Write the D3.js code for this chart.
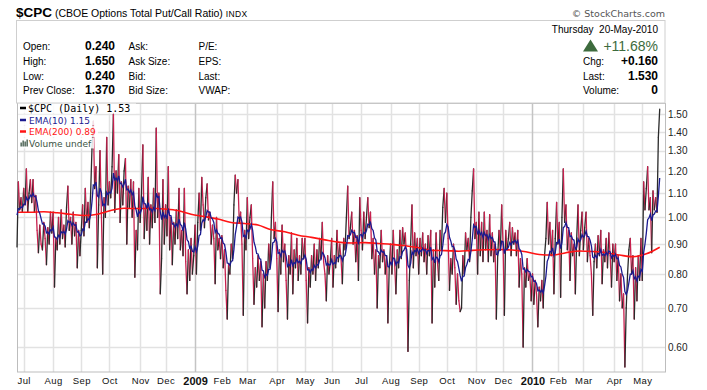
<!DOCTYPE html>
<html><head><meta charset="utf-8">
<script src="https://cdn.jsdelivr.net/npm/d3@7"></script>
<style>body{margin:0;background:#fff}svg{display:block}</style>
</head><body>
<svg id="c" width="707" height="390"></svg>
<script>
// ---------- DATA ----------
const holidays = ["2008-07-04","2008-09-01","2008-11-27","2008-12-25","2009-01-01","2009-01-19","2009-02-16","2009-04-10","2009-05-25","2009-07-03","2009-09-07","2009-11-26","2009-12-25","2010-01-01","2010-01-18","2010-02-15","2010-04-02"];
const months = ["2008-06","2008-07","2008-08","2008-09","2008-10","2008-11","2008-12","2009-01","2009-02","2009-03","2009-04","2009-05","2009-06","2009-07","2009-08","2009-09","2009-10","2009-11","2009-12","2010-01","2010-02","2010-03","2010-04","2010-05"];
const monthLabels = ["Jul","Aug","Sep","Oct","Nov","Dec","2009","Feb","Mar","Apr","May","Jun","Jul","Aug","Sep","Oct","Nov","Dec","2010","Feb","Mar","Apr","May"];
const yTicks = [0.60,0.70,0.80,0.90,1.00,1.10,1.20,1.30,1.40,1.50];

const cpc2008Jun = [0.89,1.15,1.03,1.08,1.02];
const cpc2008Jul = [1.12,1.05,1.21,1.02,1.10,1.16,1.06,1.16,1.02,1.09,0.95,0.87,0.97,0.90,0.88,0.98,0.92,0.83,0.96,0.90,1.02,0.94];
const cpc2008Aug = [1.02,0.76,0.92,0.88,1.00,0.90,1.03,0.92,0.97,0.89,1.04,1.13,0.95,1.00,0.90,1.02,0.93,0.98,0.82,0.95,0.86];
const cpc2008Sep = [0.95,1.05,0.93,1.12,0.98,1.06,0.96,1.10,1.31,1.46,1.12,1.22,0.82,1.05,1.30,1.02,0.80,1.08,1.00,1.37,1.05];
const cpc2008Oct = [1.15,1.08,1.22,1.50,1.02,1.20,1.10,1.28,0.98,1.15,1.05,1.20,1.26,0.90,1.13,1.04,1.16,1.00,1.15,0.79,0.95,0.88,1.12];
const cpc2008Nov = [0.98,1.10,1.33,0.92,1.05,0.95,1.17,0.90,1.05,0.96,1.12,0.98,1.42,1.00,1.10,0.74,0.85,1.16,0.90];
const cpc2008Dec = [1.05,0.93,1.22,0.88,1.00,0.83,0.98,0.90,1.03,0.92,1.12,0.88,0.95,0.86,1.12,0.84,0.74,0.88,0.78,0.92,0.80,0.86];
const cpc2009Jan = [0.97,0.80,0.98,1.10,0.95,1.17,1.05,0.96,1.08,1.14,0.99,1.02,0.90,0.97,0.92,0.77,1.00,0.88,0.92,0.85];
const cpc2009Feb = [0.93,0.82,0.88,0.75,0.67,0.83,0.80,0.90,0.85,1.05,1.18,1.10,1.16,0.98,1.02,0.90,0.68,0.95,0.88];
const cpc2009Mar = [1.08,0.92,1.00,1.05,0.85,0.71,0.82,0.76,0.86,0.78,0.84,0.65,0.80,0.70,0.84,0.78,0.90,0.82,1.00,1.15,0.92,0.98];
const cpc2009Apr = [0.85,0.69,0.88,0.80,0.97,0.84,0.90,0.78,0.67,0.86,0.80,0.94,0.74,0.88,0.82,0.92,0.78,0.86,0.80,0.92,0.85];
const cpc2009May = [0.92,0.78,0.66,0.82,0.76,0.86,0.80,0.90,0.78,0.88,0.82,0.92,0.85,0.98,0.84,0.80,0.72,0.86,0.80,0.84];
const cpc2009Jun = [0.92,0.76,0.86,0.82,0.95,0.84,0.90,0.85,0.77,0.92,0.88,1.00,1.13,0.92,0.96,1.02,0.90,0.95,0.84,0.93,0.78,1.08];
const cpc2009Jul = [0.95,0.88,1.02,0.92,1.00,1.08,0.96,1.02,0.85,0.92,0.80,0.88,0.70,0.86,0.82,0.95,0.84,0.88,0.80,0.86,0.66,0.82];
const cpc2009Aug = [0.90,0.80,0.95,0.84,0.74,0.88,0.82,0.95,0.85,0.96,0.90,0.94,0.84,0.59,0.78,0.90,1.05,0.82,0.94,0.86,0.92];
const cpc2009Sep = [0.80,0.92,0.86,0.94,0.84,0.90,0.80,0.93,0.86,0.95,0.66,0.88,0.76,0.94,0.84,0.78,0.95,0.88,1.04,1.12,0.98];
const cpc2009Oct = [1.10,0.92,0.75,0.85,0.80,0.90,0.82,0.71,0.80,0.72,0.69,0.70,0.86,0.80,0.94,0.88,0.92,0.84,1.00,1.11,1.21,0.92];
const cpc2009Nov = [0.98,0.80,1.02,0.86,0.98,0.84,1.02,0.88,0.95,0.84,1.01,0.86,0.94,0.84,0.90,0.67,0.86,0.95,0.88,1.05];
const cpc2009Dec = [0.90,0.68,0.95,0.88,0.92,0.98,0.86,0.96,0.90,0.94,0.86,0.95,0.76,0.85,0.80,0.60,0.82,0.76,0.85,0.78,0.80,0.72];
const cpc2010Jan = [0.80,0.71,0.78,0.74,0.65,0.76,0.72,0.78,0.70,0.86,0.92,1.06,0.90,0.98,0.86,0.95,0.74,0.92,1.06];
const cpc2010Feb = [0.90,0.98,0.73,1.00,1.21,0.98,1.05,0.88,0.95,0.78,0.94,0.86,0.90,0.74,0.92,1.05,0.86,0.95,1.02];
const cpc2010Mar = [0.88,0.96,1.02,0.84,0.92,0.86,0.80,0.68,0.84,0.90,0.82,0.93,0.86,0.95,0.77,0.88,0.84,0.92,0.82,0.94,0.86,0.76,0.90];
const cpc2010Apr = [0.84,0.90,0.78,0.86,0.72,0.80,0.70,0.74,0.555,0.70,0.80,0.88,0.92,0.80,0.86,0.67,0.82,0.72,0.86,0.78,0.92];
const cpc2010May = [0.78,1.15,1.03,1.12,1.22,1.03,1.08,0.87,1.11,1.03,1.08,1.02,1.37,1.53];

// EMA(200) read every 10 sessions, starting at the first session
const ema200Values = [1.020,1.020,1.022,1.018,1.012,1.007,1.012,1.027,1.036,1.035,1.036,1.033,1.027,1.012,1.003,0.993,0.980,0.976,0.970,0.952,0.945,0.932,0.924,0.915,0.907,0.904,0.905,0.902,0.899,0.894,0.887,0.878,0.877,0.875,0.878,0.880,0.881,0.879,0.873,0.864,0.862,0.870,0.876,0.874,0.870,0.862,0.856,0.866,0.889];
const ema10Seed = 1.035;

const closesByMonth = [cpc2008Jun,cpc2008Jul,cpc2008Aug,cpc2008Sep,cpc2008Oct,cpc2008Nov,cpc2008Dec,cpc2009Jan,cpc2009Feb,cpc2009Mar,cpc2009Apr,cpc2009May,cpc2009Jun,cpc2009Jul,cpc2009Aug,cpc2009Sep,cpc2009Oct,cpc2009Nov,cpc2009Dec,cpc2010Jan,cpc2010Feb,cpc2010Mar,cpc2010Apr,cpc2010May];

// ---------- CALENDAR ----------
const fmt = d => d.toISOString().slice(0,10);
const days = [];
for (let t = Date.UTC(2008,5,24); t <= Date.UTC(2010,4,20); t += 864e5) {
  const d = new Date(t), wd = d.getUTCDay();
  if (wd === 0 || wd === 6) continue;
  const k = fmt(d);
  if (holidays.includes(k)) continue;
  days.push(k);
}
const series = [];
months.forEach((m, mi) => {
  const md = days.filter(d => d.startsWith(m));
  const vals = closesByMonth[mi];
  if (md.length !== vals.length) console.error("count mismatch", m, md.length, vals.length);
  md.forEach((d, j) => { if (j < vals.length) series.push({date: d, value: vals[j]}); });
});
// EMA(10)
let e = ema10Seed; const a = 2 / 11;
series.forEach(p => { e = e + a * (p.value - e); p.ema10 = e; });

// ---------- LAYOUT ----------
const L = 17, R = 665, T = 103, B = 372;
const svg = d3.select("#c");
const sans = "'Liberation Sans', Arial, sans-serif";

const x = d3.scalePoint().domain(series.map(d => d.date)).range([L, 659.7]);
const y = d3.scaleLog().domain([0.544, 1.568]).range([B, T]);

// month ticks
const monthStarts = [];
months.slice(1).forEach(m => { const f = series.find(p => p.date.startsWith(m)); if (f) monthStarts.push(f.date); });

// grid
const g = svg.append("g");
g.selectAll("line.h").data(yTicks).join("line")
  .attr("x1", L).attr("x2", R).attr("y1", d => Math.round(y(d)) + 0.5).attr("y2", d => Math.round(y(d)) + 0.5)
  .attr("stroke", "#e2e2e2").attr("stroke-width", 1.5);
g.selectAll("line.v").data(monthStarts).join("line")
  .attr("x1", d => Math.round(x(d)) + 0.5).attr("x2", d => Math.round(x(d)) + 0.5).attr("y1", T).attr("y2", B)
  .attr("stroke", (d, i) => /^\d{4}$/.test(monthLabels[i]) ? "#c4c4c4" : "#e2e2e2").attr("stroke-width", 1.5);

// frame
svg.append("rect").attr("x", L + 0.5).attr("y", T + 0.5).attr("width", R - L).attr("height", B - T - 0.5)
  .attr("fill", "none").attr("stroke", "#bdbdbd");

// price line colored segments
const segs = [];
for (let i = 1; i < series.length; i++) segs.push([series[i - 1], series[i]]);
svg.append("g").selectAll("line").data(segs).join("line")
  .attr("x1", d => x(d[0].date)).attr("y1", d => y(d[0].value))
  .attr("x2", d => x(d[1].date)).attr("y2", d => y(d[1].value))
  .attr("stroke", d => d[1].value >= d[0].value ? "#2a2a2a" : "#c8204e")
  .attr("stroke-width", 1.3).attr("stroke-linecap", "round");

// EMA200
const ema200Pts = ema200Values.map((v, k) => ({date: series[Math.min(k * 10, series.length - 1)].date, v}));
svg.append("path").datum(ema200Pts)
  .attr("d", d3.line().x(d => x(d.date)).y(d => y(d.v)).curve(d3.curveMonotoneX))
  .attr("fill", "none").attr("stroke", "#ff1414").attr("stroke-width", 1.6);

// EMA10
svg.append("path").datum(series)
  .attr("d", d3.line().x(d => x(d.date)).y(d => y(d.ema10)))
  .attr("fill", "none").attr("stroke", "#1a1a90").attr("stroke-width", 1.3);

// axes
const ya = svg.append("g").attr("transform", `translate(${R},0)`)
  .call(d3.axisRight(y).tickValues(yTicks).tickFormat(d3.format(".2f")).tickSize(0).tickPadding(3));
ya.select(".domain").remove();
ya.selectAll("text").attr("font-family", sans).attr("font-size", 10).attr("fill", "#222");

const xa = svg.append("g").attr("transform", `translate(0,${B})`)
  .call(d3.axisBottom(x).tickValues(monthStarts).tickFormat((d, i) => monthLabels[i]).tickSize(0).tickPadding(5));
xa.select(".domain").remove();
xa.selectAll("text").attr("font-family", sans)
  .attr("font-size", (d, i) => /^\d{4}$/.test(monthLabels[i]) ? 11 : 9.5)
  .attr("font-weight", (d, i) => /^\d{4}$/.test(monthLabels[i]) ? "bold" : "normal")
  .attr("letter-spacing", (d, i) => /^\d{4}$/.test(monthLabels[i]) ? 0 : 0.4)
  .attr("fill", "#111");

// legend
const legend = [
  {t: "$CPC (Daily) 1.53", c: "#000", f: "'DejaVu Sans Mono', monospace", s: 10, y: 111.5, w: 106},
  {t: "EMA(10) 1.15", c: "#1a1a90", f: "'DejaVu Sans', sans-serif", s: 9, y: 123.5, w: 64},
  {t: "EMA(200) 0.89", c: "#ff1414", f: "'DejaVu Sans', sans-serif", s: 9, y: 135, w: 68},
  {t: "Volume undef", c: "#3b5444", f: "'DejaVu Sans', sans-serif", s: 9, y: 146.5, w: 64}
];
const lg = svg.append("g");
legend.forEach((d, i) => {
  lg.append("rect").attr("x", 18).attr("y", d.y - 9).attr("width", d.w + 12).attr("height", 11).attr("fill", "#fff").attr("opacity", 0.85);
});
legend.forEach((d, i) => {
  if (i < 3) lg.append("line").attr("x1", 20).attr("x2", 26).attr("y1", d.y - 3.5).attr("y2", d.y - 3.5).attr("stroke", d.c).attr("stroke-width", 2.5);
  else {
    [[20.5, 4], [22.5, 6], [24.5, 5], [26.5, 7]].forEach(b => lg.append("rect").attr("x", b[0]).attr("y", d.y - b[1]).attr("width", 1.3).attr("height", b[1]).attr("fill", "#3b5444"));
  }
  lg.append("text").attr("x", i === 0 ? 28 : 29).attr("y", d.y).text(d.t)
    .attr("font-family", d.f).attr("font-size", d.s).attr("fill", d.c);
});

// header
const h = svg.append("g").attr("font-family", sans);
h.append("rect").attr("x", 16.5).attr("y", 20.5).attr("width", 648.5).attr("height", 82.5).attr("fill", "none").attr("stroke", "#cfcfcf");
const title = h.append("text").attr("x", 16).attr("y", 17).style("white-space", "pre");
title.append("tspan").attr("font-size", 13.5).attr("font-weight", "bold").text("$CPC");
title.append("tspan").attr("font-size", 10.5).text(" (CBOE Options Total Put/Call Ratio) ");
title.append("tspan").attr("font-size", 8.5).attr("letter-spacing", 0.4).text("INDX");

const rowsY = [50, 64.5, 79.5, 94];
const col1 = ["Open:", "High:", "Low:", "Prev Close:"];
const col1v = ["0.240", "1.650", "0.240", "1.370"];
const col2 = ["Ask:", "Ask Size:", "Bid:", "Bid Size:"];
const col3 = ["P/E:", "EPS:", "Last:", "VWAP:"];
const rightLabels = ["Chg:", "Last:", "Volume:"];
const rightValues = ["+0.160", "1.530", "0"];
rowsY.forEach((yy, i) => {
  h.append("text").attr("x", 23).attr("y", yy).attr("font-size", 10).text(col1[i]);
  h.append("text").attr("x", 115).attr("y", yy).attr("font-size", 12).attr("font-weight", "bold").attr("text-anchor", "end").text(col1v[i]);
  h.append("text").attr("x", 128.5).attr("y", yy).attr("font-size", 10).text(col2[i]);
  h.append("text").attr("x", 198.5).attr("y", yy).attr("font-size", 10).text(col3[i]);
});
h.append("text").attr("x", 665).attr("y", 16.5).attr("font-size", 9.5).attr("fill", "#555").attr("text-anchor", "end")
  .attr("font-family", "'DejaVu Sans', sans-serif").text("© StockCharts.com");
h.append("text").attr("x", 658).attr("y", 33).attr("font-size", 10).attr("text-anchor", "end").style("white-space", "pre").text("Thursday  20-May-2010");
h.append("path").attr("d", "M583,51.5 L590.5,39.5 L598,51.5 Z").attr("fill", "#3d6b3d");
h.append("text").attr("x", 658).attr("y", 51).attr("font-size", 14).attr("fill", "#3d6b3d").attr("text-anchor", "end").text("+11.68%");
rightLabels.forEach((t, i) => {
  h.append("text").attr("x", 583).attr("y", rowsY[i + 1]).attr("font-size", 10).text(t);
  h.append("text").attr("x", 658).attr("y", rowsY[i + 1]).attr("font-size", 12).attr("font-weight", "bold").attr("text-anchor", "end").text(rightValues[i]);
});
</script>
</body></html>
